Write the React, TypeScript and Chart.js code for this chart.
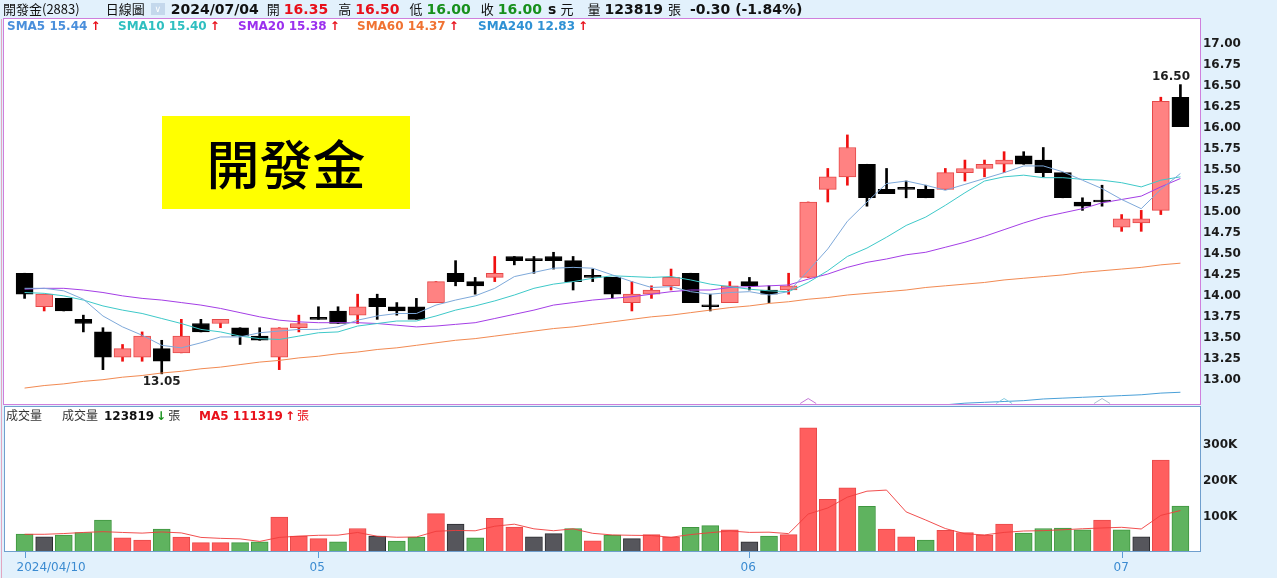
import { useEffect, useRef } from "react";
import { Chart, registerables } from "chart.js";

Chart.register(...registerables);

// ---------- data ----------
const DATES = [
  "2024/04/10", "2024/04/11", "2024/04/12", "2024/04/15", "2024/04/16", "2024/04/17", "2024/04/18", "2024/04/19",
  "2024/04/22", "2024/04/23", "2024/04/24", "2024/04/25", "2024/04/26", "2024/04/29", "2024/04/30",
  "2024/05/02", "2024/05/03", "2024/05/06", "2024/05/07", "2024/05/08", "2024/05/09", "2024/05/10", "2024/05/13",
  "2024/05/14", "2024/05/15", "2024/05/16", "2024/05/17", "2024/05/20", "2024/05/21", "2024/05/22", "2024/05/23",
  "2024/05/24", "2024/05/27", "2024/05/28", "2024/05/29", "2024/05/30", "2024/05/31",
  "2024/06/03", "2024/06/04", "2024/06/05", "2024/06/06", "2024/06/07", "2024/06/11", "2024/06/12", "2024/06/13",
  "2024/06/14", "2024/06/17", "2024/06/18", "2024/06/19", "2024/06/20", "2024/06/21", "2024/06/24", "2024/06/25",
  "2024/06/26", "2024/06/27", "2024/06/28",
  "2024/07/01", "2024/07/02", "2024/07/03", "2024/07/04",
];

const OPEN = [
  14.25, 13.85, 13.95, 13.70, 13.55, 13.25, 13.25, 13.35, 13.30, 13.65,
  13.65, 13.60, 13.50, 13.25, 13.60, 13.70, 13.80, 13.75, 13.95, 13.85,
  13.85, 13.90, 14.25, 14.15, 14.20, 14.45, 14.40, 14.45, 14.40, 14.20,
  14.20, 13.90, 14.00, 14.10, 14.25, 13.85, 13.90, 14.15, 14.05, 14.05,
  14.20, 15.25, 15.40, 15.55, 15.25, 15.25, 15.25, 15.25, 15.45, 15.50,
  15.55, 15.65, 15.60, 15.45, 15.10, 15.10, 14.80, 14.85, 15.00, 16.35,
];
const HIGH = [
  14.25, 14.00, 13.95, 13.75, 13.60, 13.40, 13.55, 13.45, 13.70, 13.70,
  13.70, 13.60, 13.60, 13.60, 13.75, 13.85, 13.85, 14.00, 14.00, 13.90,
  13.95, 14.15, 14.40, 14.20, 14.45, 14.45, 14.45, 14.50, 14.45, 14.30,
  14.20, 14.15, 14.10, 14.30, 14.25, 14.00, 14.15, 14.20, 14.10, 14.25,
  15.10, 15.50, 15.90, 15.55, 15.50, 15.35, 15.30, 15.50, 15.60, 15.60,
  15.70, 15.70, 15.75, 15.45, 15.15, 15.30, 14.95, 15.00, 16.35, 16.50,
];
const LOW = [
  13.95, 13.80, 13.80, 13.55, 13.10, 13.20, 13.20, 13.05, 13.30, 13.55,
  13.60, 13.40, 13.45, 13.10, 13.55, 13.70, 13.65, 13.65, 13.70, 13.75,
  13.70, 13.90, 14.10, 14.00, 14.15, 14.35, 14.25, 14.30, 14.05, 14.15,
  13.95, 13.80, 13.95, 14.05, 13.90, 13.80, 13.90, 14.05, 13.90, 14.00,
  14.20, 15.10, 15.30, 15.05, 15.20, 15.15, 15.15, 15.25, 15.35, 15.40,
  15.45, 15.55, 15.40, 15.15, 15.00, 15.05, 14.75, 14.75, 14.95, 16.00,
];
const CLOSE = [
  14.00, 14.00, 13.80, 13.65, 13.25, 13.35, 13.50, 13.20, 13.50, 13.55,
  13.70, 13.50, 13.45, 13.60, 13.65, 13.70, 13.65, 13.85, 13.85, 13.80,
  13.70, 14.15, 14.15, 14.10, 14.25, 14.40, 14.40, 14.40, 14.15, 14.20,
  14.00, 14.00, 14.05, 14.20, 13.90, 13.85, 14.10, 14.10, 14.00, 14.10,
  15.10, 15.40, 15.75, 15.15, 15.20, 15.25, 15.15, 15.45, 15.50, 15.55,
  15.60, 15.55, 15.45, 15.15, 15.05, 15.10, 14.90, 14.90, 16.30, 16.00,
];
const PREV_CLOSE = 14.15; // close of the session before the first one shown

const VOLUME = [
  46600, 39000, 44000, 51000, 85000, 36000, 30000, 60000, 38000, 23000,
  23000, 23000, 25000, 93000, 41000, 34000, 25000, 62000, 41000, 27000,
  38000, 103000, 74000, 36000, 90000, 66000, 39000, 48000, 62000, 28000,
  44000, 34000, 45000, 38000, 65000, 70000, 58000, 25000, 41000, 45000,
  339000, 142000, 174000, 123000, 60000, 39000, 30000, 57000, 51000, 44000,
  74000, 49000, 62000, 63000, 58000, 85000, 58000, 39000, 250000, 123819,
];
const VOL_MA5 = [
  46000, 46000, 48000, 51000, 53200, 51000, 49200, 52400, 49800, 37400,
  34800, 33400, 26400, 37400, 41000, 43200, 43600, 51000, 40600, 37800,
  38600, 54200, 56600, 55600, 68200, 73800, 61000, 55800, 61000, 48600,
  44200, 43200, 42600, 37800, 45200, 50400, 55200, 51200, 51800, 47800,
  101600, 118400, 148200, 164600, 167600, 107600, 85200, 61800, 47400, 44200,
  51200, 55000, 56000, 58400, 61200, 63400, 65200, 60600, 98000, 111319,
];

const SMA5 = [
  14.07, 14.07, 14.04, 13.94, 13.74, 13.61, 13.51, 13.39, 13.36, 13.42,
  13.49, 13.49, 13.54, 13.56, 13.58, 13.58, 13.61, 13.69, 13.74, 13.77,
  13.77, 13.87, 13.93, 13.98, 14.07, 14.21, 14.26, 14.31, 14.32, 14.31,
  14.23, 14.15, 14.08, 14.09, 14.03, 14.00, 14.02, 14.03, 13.99, 14.03,
  14.28, 14.54, 14.87, 15.10, 15.32, 15.35, 15.30, 15.24, 15.31, 15.38,
  15.45, 15.53, 15.53, 15.46, 15.36, 15.26, 15.13, 15.02, 15.25, 15.44,
];
const SMA10 = [
  14.02, 14.01, 13.98, 13.93, 13.86, 13.81, 13.77, 13.71, 13.65, 13.58,
  13.55, 13.50, 13.47, 13.46, 13.50, 13.54, 13.55, 13.62, 13.65, 13.68,
  13.68, 13.74, 13.81, 13.86, 13.92, 13.99, 14.07, 14.12, 14.15, 14.19,
  14.22, 14.21, 14.20, 14.21, 14.17, 14.12, 14.09, 14.06, 14.04, 14.03,
  14.14, 14.28, 14.45, 14.55, 14.68, 14.82, 14.92, 15.06, 15.21, 15.35,
  15.40, 15.42, 15.39, 15.39, 15.37, 15.36, 15.33, 15.28, 15.36, 15.40,
];
const SMA20 = [
  14.06, 14.07, 14.07, 14.05, 14.02, 13.98, 13.95, 13.93, 13.90, 13.87,
  13.83, 13.78, 13.73, 13.69, 13.67, 13.66, 13.66, 13.66, 13.65, 13.63,
  13.61, 13.62, 13.64, 13.66, 13.71, 13.76, 13.81, 13.87, 13.90, 13.93,
  13.95, 13.97, 14.00, 14.03, 14.05, 14.05, 14.08, 14.09, 14.10, 14.11,
  14.18, 14.24, 14.32, 14.38, 14.42, 14.47, 14.50, 14.56, 14.62, 14.69,
  14.77, 14.85, 14.92, 14.97, 15.02, 15.09, 15.13, 15.17, 15.28, 15.38,
];
const SMA60 = [
  12.88, 12.91, 12.93, 12.96, 12.98, 13.01, 13.03, 13.06, 13.08, 13.11,
  13.13, 13.16, 13.19, 13.21, 13.24, 13.26, 13.29, 13.31, 13.34, 13.36,
  13.39, 13.42, 13.45, 13.47, 13.50, 13.53, 13.56, 13.59, 13.61, 13.64,
  13.67, 13.70, 13.73, 13.75, 13.78, 13.81, 13.84, 13.86, 13.89, 13.91,
  13.94, 13.96, 13.99, 14.01, 14.03, 14.05, 14.08, 14.10, 14.12, 14.14,
  14.17, 14.19, 14.21, 14.23, 14.26, 14.28, 14.30, 14.32, 14.35, 14.37,
];
const SMA240 = [
  12.18, 12.19, 12.20, 12.21, 12.22, 12.23, 12.24, 12.25, 12.27, 12.28,
  12.29, 12.30, 12.31, 12.32, 12.33, 12.34, 12.35, 12.36, 12.37, 12.38,
  12.39, 12.40, 12.41, 12.42, 12.43, 12.45, 12.46, 12.47, 12.48, 12.49,
  12.50, 12.51, 12.52, 12.53, 12.54, 12.55, 12.56, 12.57, 12.58, 12.59,
  12.60, 12.61, 12.62, 12.63, 12.64, 12.65, 12.66, 12.68, 12.70, 12.71,
  12.72, 12.73, 12.75, 12.76, 12.77, 12.78, 12.79, 12.80, 12.82, 12.83,
];

const PRICE_TICKS = [13.0, 13.25, 13.5, 13.75, 14.0, 14.25, 14.5, 14.75, 15.0, 15.25, 15.5, 15.75, 16.0, 16.25, 16.5, 16.75, 17.0];
const VOL_TICKS = [100000, 200000, 300000];
const X_TICK_INDEX = [0, 15, 37, 56];
const X_TICK_LABELS = ["2024/04/10", "05", "06", "07"];
const SIGNAL_INDEX = [40, 50, 55];
const SIGNAL_COLORS = ["#c478d8", "#86cce0", "#a9bfcf"];

// ---------- styling ----------
const BG = "#e2f1fc";
const RED = "#e8101a";
const GREEN = "#17901c";
const FONT = '"DejaVu Sans", Verdana, sans-serif';
const CJK = '"Noto Sans CJK TC", "Noto Sans CJK SC", sans-serif';

const LINE_STYLES = [
  { name: "SMA5", data: SMA5, line: "#7ea9da", text: "#4a8fdb", x: 7 },
  { name: "SMA10", data: SMA10, line: "#3ec9c9", text: "#2fbfc0", x: 118 },
  { name: "SMA20", data: SMA20, line: "#a43ee6", text: "#9b30ee", x: 238 },
  { name: "SMA60", data: SMA60, line: "#f28a52", text: "#f07232", x: 357 },
  { name: "SMA240", data: SMA240, line: "#4aa0d8", text: "#2f91d4", x: 478 },
];

const pts = (arr: number[]) => arr.map((v, i) => ({ x: i, y: v }));

const fitRight = (s: any) => {
  s.width = 77;
  s.paddingTop = 0;
  s.paddingBottom = 0;
};

export default function App() {
  const priceRef = useRef<HTMLCanvasElement>(null);
  const volRef = useRef<HTMLCanvasElement>(null);

  useEffect(() => {
    const charts: any[] = [];
    const n = DATES.length;
    const up = (i: number) => CLOSE[i] > OPEN[i];

    const priceDecor = {
      id: "priceDecor",
      beforeDraw(chart: any) {
        const { ctx, chartArea: a } = chart;
        ctx.save();
        ctx.fillStyle = "#ffffff";
        ctx.fillRect(4, a.top, a.right - 4, a.bottom - a.top);
        ctx.restore();
      },
      afterDatasetsDraw(chart: any) {
        const { ctx, chartArea: a, scales } = chart;
        const xs = scales.x;
        const ys = scales.y;
        ctx.save();
        SIGNAL_INDEX.forEach((idx, k) => {
          const x = xs.getPixelForValue(idx);
          const yb = a.bottom - 0.5;
          ctx.strokeStyle = SIGNAL_COLORS[k];
          ctx.lineWidth = 1;
          ctx.beginPath();
          ctx.moveTo(x - 8, yb);
          ctx.lineTo(x, yb - 5);
          ctx.lineTo(x + 8, yb);
          ctx.stroke();
        });
        let lo = 0;
        let hi = 0;
        LOW.forEach((v, i) => { if (v < LOW[lo]) lo = i; });
        HIGH.forEach((v, i) => { if (v > HIGH[hi]) hi = i; });
        ctx.font = `bold 12px ${FONT}`;
        ctx.fillStyle = "#1e1e1e";
        ctx.textAlign = "center";
        ctx.textBaseline = "top";
        ctx.fillText(LOW[lo].toFixed(2), xs.getPixelForValue(lo), ys.getPixelForValue(LOW[lo]) + 2);
        ctx.textBaseline = "bottom";
        ctx.fillText(
          HIGH[hi].toFixed(2),
          Math.min(xs.getPixelForValue(hi), a.right - 29),
          ys.getPixelForValue(HIGH[hi]) - 2
        );
        ctx.restore();
      },
      afterDraw(chart: any) {
        const { ctx, chartArea: a } = chart;
        ctx.save();
        ctx.strokeStyle = "#cf7fdc";
        ctx.lineWidth = 1;
        ctx.strokeRect(3.5, a.top - 0.5, a.right - 3, a.bottom - a.top + 1);
        ctx.restore();
      },
    };

    const volDecor = {
      id: "volDecor",
      beforeDraw(chart: any) {
        const { ctx, chartArea: a } = chart;
        ctx.save();
        ctx.fillStyle = "#ffffff";
        ctx.fillRect(5, a.top, a.right - 5, a.bottom - a.top);
        ctx.restore();
      },
      afterDraw(chart: any) {
        const { ctx, chartArea: a, scales } = chart;
        const xs = scales.x;
        ctx.save();
        ctx.strokeStyle = "#6f9fce";
        ctx.lineWidth = 1;
        ctx.strokeRect(4.5, a.top + 0.5, a.right - 4, a.bottom - a.top);
        ctx.strokeStyle = "#5b9bd5";
        ctx.fillStyle = "#3b8bd1";
        ctx.font = `12px ${FONT}`;
        ctx.textAlign = "left";
        ctx.textBaseline = "middle";
        X_TICK_INDEX.forEach((idx, k) => {
          const x = Math.round(xs.getPixelForValue(idx)) + 0.5;
          ctx.beginPath();
          ctx.moveTo(x, a.bottom + 1);
          ctx.lineTo(x, a.bottom + 7);
          ctx.stroke();
          ctx.fillText(X_TICK_LABELS[k], x - 9, a.bottom + 17);
        });
        ctx.restore();
      },
    };

    const lineDs = LINE_STYLES.map((s) => ({
      type: "line",
      data: pts(s.data),
      borderColor: s.line,
      borderWidth: 1,
      pointRadius: 0,
      tension: 0,
      fill: false,
      order: 1,
    }));

    if (priceRef.current) {
      charts.push(
        new Chart(priceRef.current, {
          type: "bar",
          data: {
            datasets: [
              {
                type: "bar",
                data: DATES.map((_, i) => ({ x: i, y: [LOW[i], HIGH[i]] })),
                backgroundColor: DATES.map((_, i) => (up(i) ? "#f01010" : "#000000")),
                borderWidth: 0,
                barThickness: 2,
                grouped: false,
                order: 3,
              },
              {
                type: "bar",
                data: DATES.map((_, i) => ({ x: i, y: [OPEN[i], CLOSE[i]] })),
                backgroundColor: DATES.map((_, i) => (up(i) ? "#ff8282" : "#000000")),
                borderColor: DATES.map((_, i) => (up(i) ? "#e54848" : "#000000")),
                borderWidth: 1,
                borderSkipped: false,
                minBarLength: 2,
                barThickness: 17,
                grouped: false,
                order: 2,
              },
              ...lineDs,
            ],
          } as any,
          options: {
            animation: false,
            responsive: false,
            devicePixelRatio: 1,
            events: [],
            layout: { padding: { left: 5, top: 19, bottom: 1, right: 0 } },
            plugins: { legend: { display: false }, tooltip: { enabled: false } },
            scales: {
              x: { type: "linear", min: -1, max: n, display: false, offset: false },
              y: {
                position: "right",
                min: 12.69,
                max: 17.283,
                grid: { display: false, drawTicks: false },
                border: { display: false },
                afterBuildTicks: (s: any) => { s.ticks = PRICE_TICKS.map((v) => ({ value: v })); },
                afterFit: fitRight,
                ticks: {
                  padding: 3,
                  labelOffset: 1.5,
                  color: "#1b1b1b",
                  font: { family: FONT, weight: "bold", size: 12 },
                  callback: (v: any) => Number(v).toFixed(2),
                },
              },
            },
          } as any,
          plugins: [priceDecor],
        })
      );
    }

    if (volRef.current) {
      const volColor = (i: number, kind: "fill" | "border") => {
        const prev = i === 0 ? PREV_CLOSE : CLOSE[i - 1];
        if (CLOSE[i] > prev) return kind === "fill" ? "#ff5e5e" : "#e84a4a";
        if (CLOSE[i] < prev) return kind === "fill" ? "#5fb35f" : "#3f963f";
        return kind === "fill" ? "#56565c" : "#2c2c30";
      };
      charts.push(
        new Chart(volRef.current, {
          type: "bar",
          data: {
            datasets: [
              {
                type: "bar",
                data: VOLUME.map((v, i) => ({ x: i, y: v })),
                backgroundColor: VOLUME.map((_, i) => volColor(i, "fill")),
                borderColor: VOLUME.map((_, i) => volColor(i, "border")),
                borderWidth: 1,
                barThickness: 17,
                grouped: false,
                order: 2,
              },
              {
                type: "line",
                data: pts(VOL_MA5),
                borderColor: "rgba(240,60,60,0.9)",
                borderWidth: 1,
                pointRadius: 0,
                tension: 0,
                fill: false,
                order: 1,
              },
            ],
          } as any,
          options: {
            animation: false,
            responsive: false,
            devicePixelRatio: 1,
            events: [],
            layout: { padding: { left: 5, top: 1, bottom: 27, right: 0 } },
            plugins: { legend: { display: false }, tooltip: { enabled: false } },
            scales: {
              x: { type: "linear", min: -1, max: n, display: false, offset: false },
              y: {
                position: "right",
                min: 0,
                max: 399000,
                grid: { display: false, drawTicks: false },
                border: { display: false },
                afterBuildTicks: (s: any) => { s.ticks = VOL_TICKS.map((v) => ({ value: v })); },
                afterFit: fitRight,
                ticks: {
                  padding: 3,
                  labelOffset: 2.5,
                  color: "#1b1b1b",
                  font: { family: FONT, weight: "bold", size: 12 },
                  callback: (v: any) => `${Math.round(Number(v) / 1000)}K`,
                },
              },
            },
          } as any,
          plugins: [volDecor],
        })
      );
    }

    return () => charts.forEach((c) => c.destroy());
  }, []);

  const last = DATES.length - 1;
  const chg = CLOSE[last] - CLOSE[last - 1];
  const chgPct = (chg / CLOSE[last - 1]) * 100;

  // header items: text, gap before, style
  const header: any[] = [
    { t: "開發金(2883)", g: 0, cjk: true },
    { t: "日線圖", g: 26, cjk: true },
    { box: true, g: 6 },
    { t: DATES[last], g: 6, b: true },
    { t: "開", g: 8, cjk: true },
    { t: OPEN[last].toFixed(2), g: 4, b: true, c: RED },
    { t: "高", g: 10, cjk: true },
    { t: HIGH[last].toFixed(2), g: 4, b: true, c: RED },
    { t: "低", g: 10, cjk: true },
    { t: LOW[last].toFixed(2), g: 4, b: true, c: GREEN },
    { t: "收", g: 10, cjk: true },
    { t: CLOSE[last].toFixed(2), g: 4, b: true, c: GREEN },
    { t: "s", g: 6, b: true },
    { t: "元", g: 4, cjk: true },
    { t: "量", g: 14, cjk: true },
    { t: String(VOLUME[last]), g: 4, b: true },
    { t: "張", g: 5, cjk: true },
    { t: `${chg.toFixed(2)} (${chgPct.toFixed(2)}%)`, g: 9, b: true },
  ];

  const abs = (x: number, y: number, h: number): any => ({
    position: "absolute",
    left: x,
    top: y,
    height: h,
    lineHeight: `${h}px`,
    whiteSpace: "nowrap",
  });

  return (
    <div
      style={{
        position: "fixed",
        left: 0,
        top: 0,
        width: 1277,
        height: 578,
        background: BG,
        overflow: "hidden",
      }}
    >
      <canvas ref={priceRef} width={1277} height={405} style={{ position: "absolute", left: 0, top: 0 }} />
      <canvas ref={volRef} width={1277} height={173} style={{ position: "absolute", left: 0, top: 405 }} />
      <div style={{ position: "absolute", left: 1, top: 19, width: 1, height: 559, background: "#e2a6c0" }} />

      <div
        style={{
          position: "absolute",
          left: 3,
          top: 1,
          height: 16,
          display: "flex",
          alignItems: "center",
          whiteSpace: "nowrap",
        }}
      >
        {header.map((h, k) =>
          h.box ? (
            <div
              key={k}
              style={{
                marginLeft: h.g,
                width: 14,
                height: 12,
                background: "#c4d8ec",
                color: "#ffffff",
                fontSize: 9,
                lineHeight: "12px",
                textAlign: "center",
                fontFamily: FONT,
              }}
            >
              ∨
            </div>
          ) : (
            <span
              key={k}
              style={{
                marginLeft: h.g,
                lineHeight: "16px",
                fontFamily: h.cjk ? CJK : FONT,
                fontSize: h.cjk ? 13 : 14,
                fontWeight: h.b ? "bold" : "normal",
                color: h.c || "#111111",
              }}
            >
              {h.t}
            </span>
          )
        )}
      </div>

      {LINE_STYLES.map((s) => (
        <span key={s.name} style={{ ...abs(s.x, 19, 15), fontFamily: FONT, fontSize: 12, fontWeight: "bold", color: s.text }}>
          {s.name} {s.data[last].toFixed(2)}
          <span style={{ color: RED, marginLeft: 3 }}>↑</span>
        </span>
      ))}

      <span style={{ ...abs(6, 407, 15), fontFamily: CJK, fontSize: 12, color: "#333333" }}>成交量</span>
      <span style={{ ...abs(62, 407, 15), fontFamily: CJK, fontSize: 12, color: "#333333" }}>成交量</span>
      <span style={{ ...abs(104, 407, 15), fontFamily: FONT, fontSize: 12, fontWeight: "bold", color: "#111111" }}>
        {VOLUME[last]}
        <span style={{ color: GREEN, marginLeft: 2 }}>↓</span>
        <span style={{ fontFamily: CJK, fontWeight: "normal", color: "#333333", marginLeft: 2 }}>張</span>
      </span>
      <span style={{ ...abs(199, 407, 15), fontFamily: FONT, fontSize: 12, fontWeight: "bold", color: RED }}>
        MA5 {VOL_MA5[last]}
        <span style={{ marginLeft: 2 }}>↑</span>
        <span style={{ fontFamily: CJK, fontWeight: "normal", marginLeft: 2 }}>張</span>
      </span>

      <div
        style={{
          position: "absolute",
          left: 162,
          top: 116,
          width: 248,
          height: 93,
          background: "#ffff00",
          display: "flex",
          alignItems: "center",
          justifyContent: "center",
          fontFamily: CJK,
          fontSize: 53,
          fontWeight: 500,
          color: "#000000",
          lineHeight: "93px",
        }}
      >
        開發金
      </div>
    </div>
  );
}
